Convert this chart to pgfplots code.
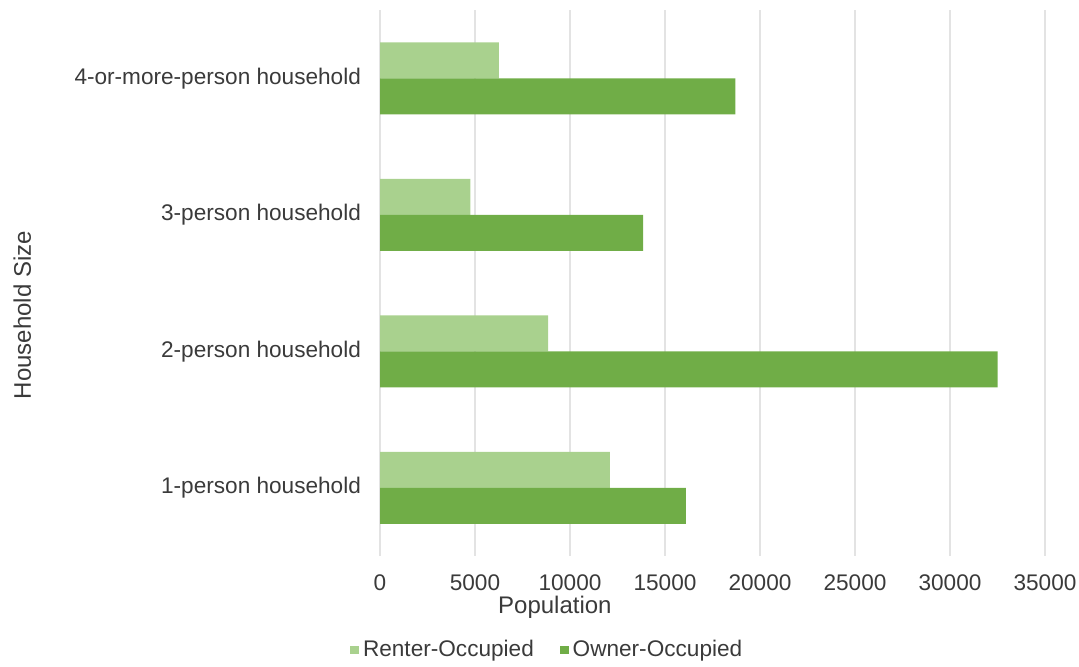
\documentclass[border=0pt]{standalone}
\usepackage{fontspec}
\setmainfont{Liberation Sans}
\usepackage{pgfplots}
\pgfplotsset{compat=1.18}
\definecolor{renter}{HTML}{A9D18E}
\definecolor{owner}{HTML}{70AD47}
\definecolor{gridc}{HTML}{E3E3E3}
\definecolor{txt}{HTML}{3A3A3A}
\begin{document}
\begin{tikzpicture}
\path[use as bounding box] (0,0) rectangle (539.5pt,333pt);
\begin{axis}[
  at={(190pt,55pt)}, anchor=south west,
  scale only axis, clip=false,
  width=332.5pt, height=273pt,
  xbar, bar width=18pt,
  xmin=0, xmax=35000,
  ymin=-0.5, ymax=3.5,
  xtick={0,5000,...,35000},
  ytick={0,1,2,3},
  yticklabels={1-person household,2-person household,3-person household,4-or-more-person household},
  scaled x ticks=false,
  /pgf/number format/1000 sep={},
  /pgf/number format/assume math mode=true,
  xmajorgrids, major grid style={gridc, line width=0.6pt},
  axis line style={draw=none},
  major tick length=0pt,
  tick label style={font=\fontsize{11.3}{13}\selectfont, text=txt},
  xticklabel style={yshift=-6pt},
  yticklabel style={xshift=-6pt},
  legend columns=2,
  legend style={draw=none, fill=none, at={(0.253,-0.172)}, anchor=center,
    font=\fontsize{11.3}{13}\selectfont, text=txt,
    /tikz/every even column/.append style={column sep=11pt}},
  legend image code/.code={\fill[#1,draw=none] (0pt,-2.2pt) rectangle (4.4pt,2.2pt);},
]
\addplot[fill=renter, draw=none, bar shift=9pt] coordinates {(12100,0) (8850,1) (4750,2) (6250,3)};
\addplot[fill=owner, draw=none, bar shift=-9pt] coordinates {(16100,0) (32500,1) (13850,2) (18700,3)};
\legend{Renter-Occupied, Owner-Occupied}
\node[font=\fontsize{12}{14}\selectfont, text=txt, yshift=-25.5pt] at (axis description cs:0.263,0) {Population};
\node[font=\fontsize{12}{14}\selectfont, text=txt, rotate=90] at (axis description cs:-0.538,0.441) {Household Size};
\end{axis}
\end{tikzpicture}
\end{document}
